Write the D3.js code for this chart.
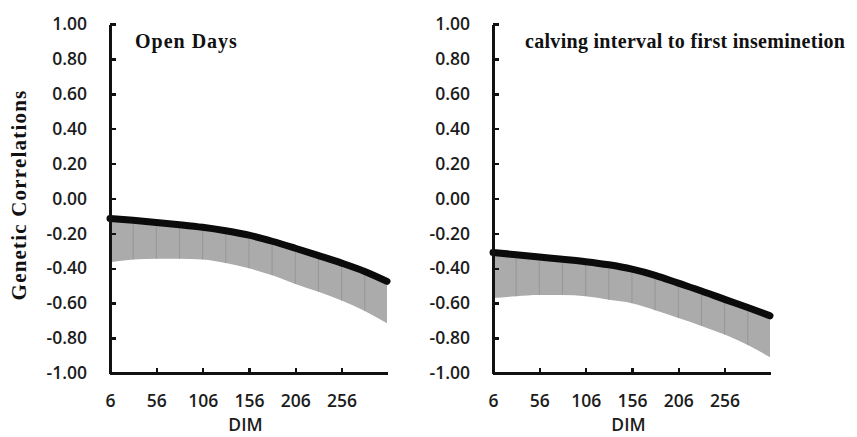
<!DOCTYPE html>
<meta charset="utf-8">
<style>
body {
  margin: 0;
  background-color: #ffffff;
}
.axis path,
.axis line {
  fill: none;
  stroke: #111;
  shape-rendering: crispEdges;
}
.axis path { stroke-width: 3px; }
.axis line { stroke-width: 2.5px; }
.axis text {
  font-family: "Open Sans", sans-serif;
  font-size: 17.5px;
  font-weight: 600;
  fill: #1c1c1c;
}
.band { fill: #ababab; }
.stripe { stroke: #979797; stroke-width: 1px; }
.curve { fill: none; stroke: #0b0b0b; stroke-width: 7px; stroke-linecap: round; }
.title {
  font-family: "Liberation Serif", "Times New Roman", serif;
  font-weight: bold;
  font-size: 20px;
  fill: #111;
}
.xlabel {
  font-family: "Open Sans", sans-serif;
  font-size: 17.5px;
  font-weight: 600;
  fill: #1c1c1c;
}
</style>
<svg width="857" height="437"></svg>
<script src="https://d3js.org/d3.v7.min.js"></script>
<script>

// days in milk
var dim = [6, 31, 56, 81, 106, 131, 156, 181, 206, 231, 256, 281, 305];

// Open Days: upper edge (thick line) and lower edge of the grey band
var openUpper = [-0.115, -0.125, -0.137, -0.15, -0.165, -0.185, -0.21, -0.245, -0.285, -0.327, -0.37, -0.418, -0.475];
var openLower = [-0.365, -0.35, -0.345, -0.345, -0.35, -0.37, -0.40, -0.44, -0.49, -0.535, -0.585, -0.645, -0.715];

// calving interval to first insemination
var cfiUpper = [-0.31, -0.322, -0.335, -0.348, -0.362, -0.38, -0.405, -0.44, -0.485, -0.53, -0.578, -0.625, -0.672];
var cfiLower = [-0.57, -0.56, -0.553, -0.553, -0.56, -0.58, -0.60, -0.64, -0.685, -0.73, -0.78, -0.84, -0.91];

var xTicks = [6, 56, 106, 156, 206, 256];
var yTicks = [-1, -0.8, -0.6, -0.4, -0.2, 0, 0.2, 0.4, 0.6, 0.8, 1];

var svg = d3.select("svg");

var y = d3.scaleLinear().domain([-1, 1]).range([373, 24]);

var panels = [
  {left: 110, right: 387, title: "Open Days", titleX: 135, spacing: 1, upper: openUpper, lower: openLower},
  {left: 493, right: 770, title: "calving interval to first inseminetion", titleX: 525, spacing: 0.3, upper: cfiUpper, lower: cfiLower}
];

panels.forEach(function(p) {
  var x = d3.scaleLinear().domain([6, 305]).range([p.left, p.right]);
  var rows = dim.map(function(d, i) { return {dim: d, hi: p.upper[i], lo: p.lower[i]}; });
  var g = svg.append("g");

  var area = d3.area()
      .curve(d3.curveMonotoneX)
      .x(function(d) { return x(d.dim); })
      .y0(function(d) { return y(d.lo); })
      .y1(function(d) { return y(d.hi); });

  g.append("path")
      .datum(rows)
      .attr("class", "band")
      .attr("d", area);

  g.selectAll(".stripe")
      .data(rows.slice(1, -1))
    .enter().append("line")
      .attr("class", "stripe")
      .attr("x1", function(d) { return x(d.dim); })
      .attr("x2", function(d) { return x(d.dim); })
      .attr("y1", function(d) { return y(d.lo); })
      .attr("y2", function(d) { return y(d.hi); });

  var line = d3.line()
      .curve(d3.curveMonotoneX)
      .x(function(d) { return x(d.dim); })
      .y(function(d) { return y(d.hi); });

  g.append("path")
      .datum(rows)
      .attr("class", "curve")
      .attr("d", line);

  g.append("g")
      .attr("class", "axis")
      .attr("transform", "translate(" + p.left + ",0)")
      .call(d3.axisLeft(y).tickValues(yTicks).tickSizeInner(-6).tickSizeOuter(0).tickPadding(23)
        .tickFormat(function(d) { return d.toFixed(2); }));

  g.append("g")
      .attr("class", "axis")
      .attr("transform", "translate(0,373)")
      .call(d3.axisBottom(x).tickValues(xTicks).tickSizeInner(-5).tickSizeOuter(0).tickPadding(22));

  g.append("text")
      .attr("class", "title")
      .attr("x", p.titleX)
      .attr("y", 48)
      .style("letter-spacing", p.spacing + "px")
      .text(p.title);

  g.append("text")
      .attr("class", "xlabel")
      .attr("x", (p.left + p.right) / 2 - 3)
      .attr("y", 431)
      .attr("text-anchor", "middle")
      .text("DIM");
});

svg.append("text")
    .attr("class", "title")
    .attr("transform", "translate(26,195) rotate(-90)")
    .attr("text-anchor", "middle")
    .style("font-size", "21px")
    .style("letter-spacing", "1.2px")
    .text("Genetic Correlations");

</script>
